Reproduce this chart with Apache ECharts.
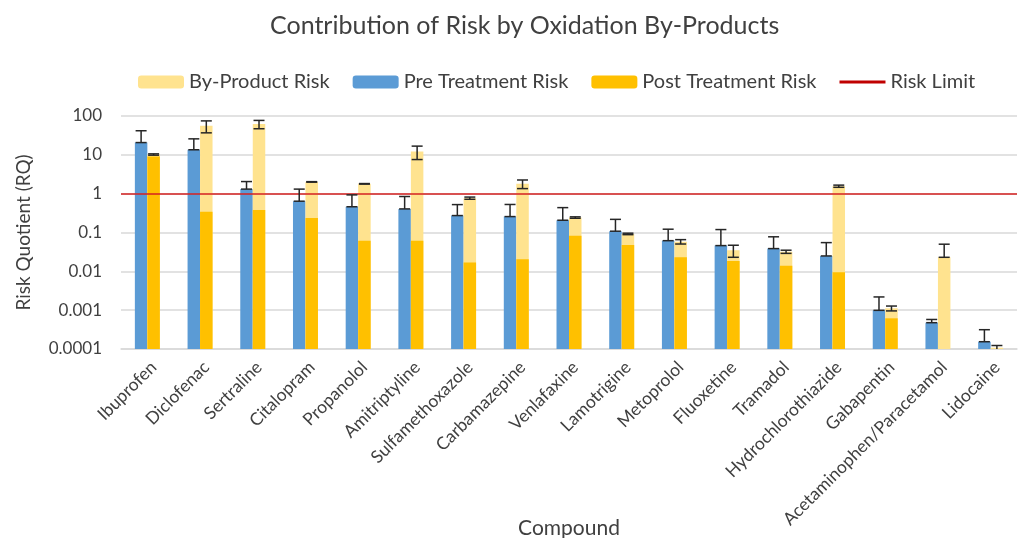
<!DOCTYPE html>
<html>
<head>
<meta charset="utf-8">
<script src="https://cdn.jsdelivr.net/npm/echarts@6/dist/echarts.min.js"></script>
<style>
html,body{margin:0;padding:0;background:#fff;}
#c{width:1019px;height:538px;}
</style>
</head>
<body>
<div id="c"></div>
<script>
var categories = ['Ibuprofen','Diclofenac','Sertraline','Citalopram','Propanolol','Amitriptyline','Sulfamethoxazole','Carbamazepine','Venlafaxine','Lamotrigine','Metoprolol','Fluoxetine','Tramadol','Hydrochlorothiazide','Gabapentin','Acetaminophen/Paracetamol','Lidocaine'];
var preRisk = [20.7, 13.5, 1.31, 0.64, 0.46, 0.405, 0.273, 0.257, 0.207, 0.108, 0.0616, 0.046, 0.0385, 0.0249, 0.00099, 0.000476, 0.000154];
var preErr = [21, 12.3, 0.74, 0.67, 0.47, 0.44, 0.25, 0.27, 0.23, 0.11, 0.06, 0.073, 0.039, 0.03, 0.0012, 0.0001, 0.00016];
var postRisk = [9.0, 0.34, 0.38, 0.238, 0.061, 0.061, 0.017, 0.0205, 0.083, 0.048, 0.023, 0.0185, 0.014, 0.0095, 0.000617, 0.00009, 0.00009];
var byProductRisk = [1.2, 55.5, 61.6, 1.77, 1.73, 12.1, 0.75, 1.78, 0.16, 0.044, 0.035, 0.0165, 0.018, 1.55, 0.0005, 0.0229, 0.000018];
var totalErr = [0.4, 19, 15, 0.03, 0.03, 4.6, 0.05, 0.45, 0.01, 0.004, 0.0075, 0.012, 0.003, 0.1, 0.00016, 0.027, 0.000015];
var riskLimit = 1;
var yTicks = [0.0001, 0.001, 0.01, 0.1, 1, 10, 100];

var FONT = 'Lato';
var TXT = '#404040';
var BAR_FRAC = 0.237;
var Y_MIN = 0.0001;

var totalRisk = postRisk.map(function (p, i) { return +(p + byProductRisk[i]).toPrecision(6); });

// [categoryIndex, value, error, side(-1 pre / 1 total), plusOnly]
var errData = [];
categories.forEach(function (c, i) {
  errData.push([i, preRisk[i], preErr[i], -1, 1]);
  errData.push([i, totalRisk[i], totalErr[i], 1, 0]);
});

var chart = echarts.init(document.getElementById('c'));
var option = {
  animation: false,
  textStyle: { fontFamily: FONT },
  title: {
    text: 'Contribution of Risk by Oxidation By-Products',
    left: 265, top: 8,
    textStyle: { fontFamily: FONT, fontSize: 25, fontWeight: 'normal', color: TXT }
  },
  legend: {
    top: 67, left: 133,
    itemWidth: 46, itemHeight: 13, itemGap: 23,
    textStyle: { fontFamily: FONT, fontSize: 20, color: TXT },
    data: [
      { name: 'By-Product Risk' },
      { name: 'Pre Treatment Risk' },
      { name: 'Post Treatment Risk' },
      { name: 'Risk Limit', icon: 'path://M0,0 L46,0 L46,3 L0,3 Z', itemStyle: { color: '#C00000' } }
    ]
  },
  grid: { left: 121, right: 2, top: 116, bottom: 189, containLabel: false, outerBoundsMode: 'none' },
  xAxis: [{
    type: 'category', data: categories,
    axisTick: { show: false },
    axisLine: { lineStyle: { color: '#d9d9d9', width: 1.5 } },
    axisLabel: { interval: 0, rotate: 45, fontSize: 17.5, color: TXT, fontFamily: FONT, margin: 9, verticalAlign: 'top' },
    name: 'Compound', nameLocation: 'middle', nameGap: 169, nameMoveOverlap: false,
    nameTextStyle: { fontSize: 21, color: TXT, fontFamily: FONT }
  }, {
    type: 'category', data: categories, show: false
  }],
  yAxis: {
    type: 'log', logBase: 10, min: Y_MIN, max: 100, startValue: Y_MIN,
    axisLine: { show: false }, axisTick: { show: false },
    splitLine: { lineStyle: { color: '#d9d9d9', width: 1.5 } },
    axisLabel: {
      fontSize: 17, color: TXT, fontFamily: FONT, margin: 19,
      formatter: function (v) {
        var t = yTicks.reduce(function (a, b) { return Math.abs(Math.log10(b) - Math.log10(v)) < Math.abs(Math.log10(a) - Math.log10(v)) ? b : a; });
        return String(t);
      }
    },
    name: 'Risk Quotient (RQ)', nameLocation: 'middle', nameGap: 88,
    nameTextStyle: { fontSize: 19, color: TXT, fontFamily: FONT }
  },
  series: [
    {
      name: 'Pre Treatment Risk', type: 'bar', xAxisIndex: 0,
      data: preRisk, barWidth: (BAR_FRAC * 100) + '%', barGap: '0%',
      itemStyle: { color: '#5B9BD5' }
    },
    {
      name: 'By-Product Risk', type: 'bar', xAxisIndex: 0,
      data: totalRisk, barWidth: (BAR_FRAC * 100) + '%', barGap: '0%',
      itemStyle: { color: '#FFE38F' }
    },
    {
      name: '_slot', type: 'bar', xAxisIndex: 1,
      data: categories.map(function () { return null; }), barWidth: (BAR_FRAC * 100) + '%', barGap: '0%',
      legendHoverLink: false
    },
    {
      name: 'Post Treatment Risk', type: 'bar', xAxisIndex: 1,
      data: postRisk, barWidth: (BAR_FRAC * 100) + '%', barGap: '0%',
      itemStyle: { color: '#FFC000' }
    },
    {
      name: 'Risk Limit', type: 'line', xAxisIndex: 0, data: [],
      itemStyle: { color: '#C00000' }, lineStyle: { color: '#C00000' },
      markLine: {
        silent: true, symbol: 'none', label: { show: false },
        lineStyle: { color: '#D42020', width: 1.6, type: 'solid' },
        data: [{ yAxis: riskLimit }]
      },
      z: 5
    },
    {
      name: '_err', type: 'custom', xAxisIndex: 0, z: 10,
      data: errData,
      renderItem: function (params, api) {
        var idx = api.value(0), val = api.value(1), err = api.value(2), side = api.value(3), plusOnly = api.value(4);
        var bw = api.size([1, 0])[0];
        var off = side * bw * BAR_FRAC / 2;
        var c = api.coord([idx, val]);
        var x = c[0] + off;
        var yTop = api.coord([idx, val + err])[1];
        var low = val - err;
        var yLow, lowCap = true;
        if (plusOnly || low <= 0) { yLow = c[1]; }
        else if (low < Y_MIN) { yLow = api.coord([idx, Y_MIN])[1]; lowCap = false; }
        else { yLow = api.coord([idx, low])[1]; }
        var half = 5.5;
        var st = { stroke: '#262626', lineWidth: 1.5 };
        var children = [
          { type: 'line', shape: { x1: x, y1: yTop, x2: x, y2: yLow }, style: st },
          { type: 'line', shape: { x1: x - half, y1: yTop, x2: x + half, y2: yTop }, style: st }
        ];
        if (lowCap) children.push({ type: 'line', shape: { x1: x - half, y1: yLow, x2: x + half, y2: yLow }, style: st });
        return { type: 'group', children: children };
      }
    }
  ]
};
chart.setOption(option);
</script>
</body>
</html>
